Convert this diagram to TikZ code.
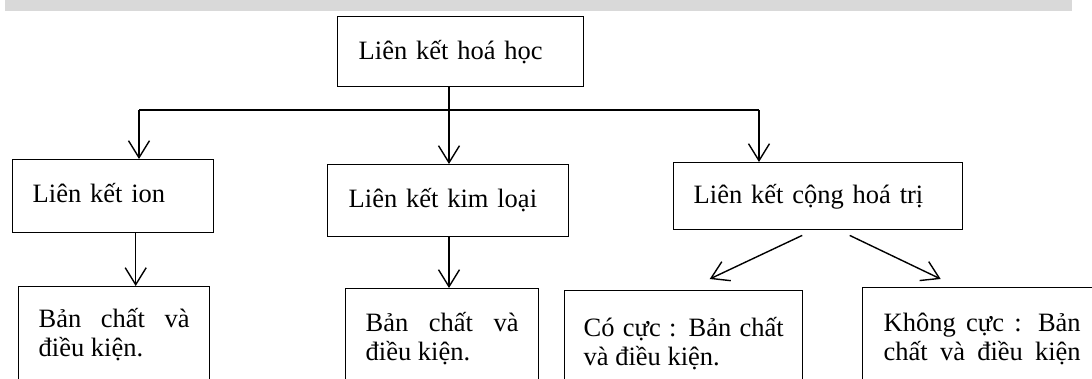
\documentclass[tikz,border=0pt]{standalone}
\usepackage{fontspec}
\setmainfont{Liberation Serif}
\usetikzlibrary{arrows.meta,calc}
\tolerance=10000
\hyphenpenalty=10000

\begin{document}
\begin{tikzpicture}[x=1pt, y=-1pt,
  box/.style={draw, line width=1.4pt, anchor=north west, inner xsep=20pt, inner ysep=0pt,
    align=left, text height=43pt, text depth=28pt, font=\fontsize{26.5}{28.5}\selectfont},
  leaf/.style={box, align=justify, text height=43pt, text depth=160pt},
  ln/.style={line width=1.4pt},
  arr/.style={ln, -{Straight Barb[length=17pt,width=21pt]}}
]
\useasboundingbox (0,0) rectangle (1092,378);
\clip (0,0) rectangle (1092,378);
% heading band (cut off)
\fill[black!15] (5,0) rectangle (1072,11);
% boxes
\node[box, inner xsep=21pt, text width=204pt, text depth=27pt] (hh) at (337,16) {Liên kết hoá học};
\node[box, text width=161pt, text depth=30pt] (ion) at (12,159) {Liên kết ion};
\node[box, inner xsep=21pt, text width=199pt, text depth=29pt] (kl) at (327,164) {Liên kết kim loại};
\node[box, text width=249pt, text height=41pt, text depth=26pt] (cht) at (673,162) {Liên kết cộng hoá trị};
\node[leaf, text width=151pt, text height=41pt] (bc1) at (18,286) {Bản chất và điều kiện.};
\node[leaf, text width=153pt] (bc2) at (345,288) {Bản chất và điều kiện.};
\node[leaf, inner xsep=19pt, text width=200pt, text height=46pt] (cc) at (564,290) {Có cực : Bản chất và điều kiện.};
\node[leaf, inner xsep=21pt, text width=197pt, text height=44pt] (kc) at (862,287)
  {\parfillskip=0pt Không cực : Bản chất và điều kiện\par};
% connectors
\coordinate (split) at (449,110);
\coordinate (lft) at (139,110);
\coordinate (rgt) at (759,110);
\draw[ln] (hh.south -| split) -- (split);
\draw[ln] (lft) -- (rgt);
\draw[arr] (lft) -- (lft |- ion.north);
\draw[arr] (split) -- (split |- kl.north);
\draw[arr] (rgt) -- (rgt |- cht.north);
\draw[arr] ($(ion.south)+(22.5,0)$) -- ($(ion.south |- bc1.north)+(22.5,0)$);
\draw[arr] (split |- kl.south) -- (split |- bc2.north);
\draw[arr] ($(cht.south)+(-16,5)$) -- ($(cc.north)+(26,-11)$);
\draw[arr] ($(cht.south)+(31.5,5)$) -- ($(kc.north)+(-41.5,-8)$);
\end{tikzpicture}
\end{document}
